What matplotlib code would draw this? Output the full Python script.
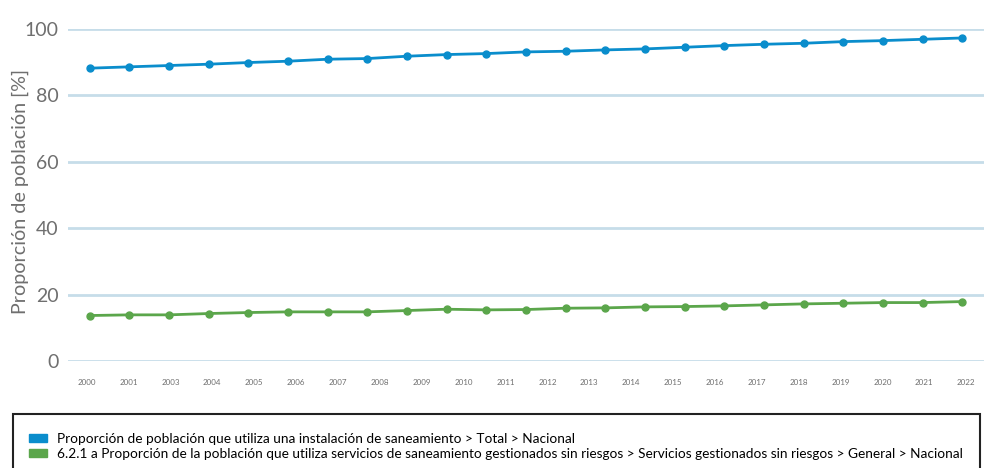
import matplotlib
matplotlib.use("Agg")
import matplotlib.pyplot as plt
import numpy as np
from matplotlib.patches import Patch, Rectangle

# data
years = list(range(2000, 2023))
tick_labels = ["2000", "2001", "2003", "2004", "2005", "2006", "2007", "2008",
               "2009", "2010", "2011", "2012", "2013", "2014", "2015", "2016",
               "2017", "2018", "2019", "2020", "2021", "2022"]
total = [88.2, 88.6, 89.0, 89.4, 89.9, 90.3, 90.9, 91.1, 91.8, 92.3, 92.6, 93.1,
         93.3, 93.7, 94.0, 94.5, 95.0, 95.4, 95.7, 96.2, 96.5, 96.9, 97.3]
gestionado = [13.7, 13.9, 13.9, 14.3, 14.6, 14.8, 14.8, 14.8, 15.2, 15.6, 15.4, 15.5,
              15.9, 16.0, 16.3, 16.4, 16.6, 16.9, 17.2, 17.4, 17.6, 17.6, 17.9]
series_names = [
    "Proporción de población que utiliza una instalación de saneamiento > Total > Nacional",
    "6.2.1 a Proporción de la población que utiliza servicios de saneamiento gestionados sin riesgos > Servicios gestionados sin riesgos > General > Nacional",
]

BLUE = "#0a8dcc"
GREEN = "#5ba64b"
GRID = "#c6dde9"
GREY = "#6f6f6f"

plt.rcParams['font.family'] = ['Lato', 'DejaVu Sans']

W, H = 984, 468
fig = plt.figure(figsize=(W / 100, H / 100), dpi=100)
# axes: x 68..984 px, y 29..361 px
ax = fig.add_axes([68 / W, 1 - 361 / H, (984 - 68) / W, (361 - 29) / H])

x = np.arange(len(years))
ax.plot(x, total, color=BLUE, lw=2, marker="o", ms=5, clip_on=False, zorder=3)
ax.plot(x, gestionado, color=GREEN, lw=2, marker="o", ms=5, clip_on=False, zorder=3)

ax.set_xlim(-0.55, 22.55)
ax.set_ylim(0, 100)
ax.set_yticks([0, 20, 40, 60, 80, 100])
ax.set_xticks(np.linspace(-0.08, 22.1, len(tick_labels)))
ax.set_xticklabels(tick_labels)
ax.tick_params(axis="x", length=0, pad=13, labelsize=5.8, labelcolor=GREY)
ax.tick_params(axis="y", length=0, pad=7, labelsize=14, labelcolor=GREY)
ax.grid(axis="y", color=GRID, lw=2)
ax.set_axisbelow(True)
for s in ax.spines.values():
    s.set_visible(False)

ax.set_ylabel("Proporción de población [%]", fontsize=14.2, color=GREY)
ax.yaxis.set_label_coords((29 - 68) / (984 - 68), (361 - 192) / (361 - 29))

# legend box running off the right and bottom edges
fig.patches.append(Rectangle((13 / W, -0.05), (W - 13 - 4) / W, (1 - 414 / H) + 0.05,
                             transform=fig.transFigure, fill=False,
                             edgecolor="#222222", lw=1.5))
handles = [Patch(color=BLUE), Patch(color=GREEN)]
fig.legend(handles, series_names, loc="upper left",
           bbox_to_anchor=(22 / W, 1 - 426 / H), frameon=False,
           fontsize=9.8, handlelength=1.3, handleheight=0.5,
           handletextpad=0.8, labelspacing=0.25, borderpad=0)

fig.savefig("out.png", dpi=100)
